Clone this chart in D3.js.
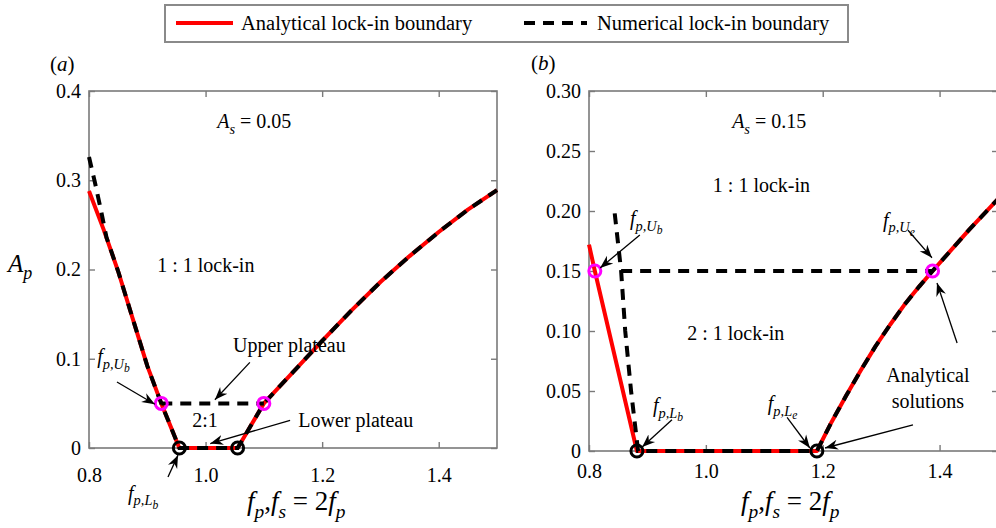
<!DOCTYPE html>
<html>
<head>
<meta charset="utf-8">
<script src="https://cdn.jsdelivr.net/npm/d3@7"></script>
<style>
  body { margin: 0; background: #fff; }
  svg text { font-family: "Liberation Serif", "Times New Roman", "DejaVu Serif", serif; }
</style>
</head>
<body>
<svg id="chart" width="996" height="528"></svg>
<script>
// ---- data ----
// panel (a), A_s = 0.05
const fRedA = [0.8, 0.825, 0.85, 0.875, 0.9, 0.924, 0.955, 1.055, 1.066, 1.1, 1.15, 1.2, 1.25, 1.3, 1.35, 1.4, 1.45, 1.5];
const apRedA = [0.288, 0.245, 0.198, 0.145, 0.092, 0.05, 0, 0, 0.012, 0.05, 0.085, 0.12, 0.154, 0.186, 0.215, 0.242, 0.267, 0.289];
const fNumA = [0.8, 0.81, 0.82, 0.83, 0.85, 0.875, 0.9, 0.924, 0.955, 1.055, 1.066, 1.1, 1.15, 1.2, 1.25, 1.3, 1.35, 1.4, 1.45, 1.5];
const apNumA = [0.326, 0.298, 0.268, 0.236, 0.198, 0.145, 0.092, 0.05, 0, 0, 0.012, 0.05, 0.085, 0.12, 0.154, 0.186, 0.215, 0.242, 0.267, 0.289];
const fPlateauA = [0.924, 1.1];
const apPlateauA = [0.05, 0.05];
const fUpperPtsA = [0.924, 1.1];
const apUpperPtsA = [0.05, 0.05];
const fLowerPtsA = [0.955, 1.055];
const apLowerPtsA = [0, 0];

// panel (b), A_s = 0.15
const fRedB = [0.8, 0.81, 0.882, 1.19, 1.215, 1.24, 1.265, 1.29, 1.315, 1.34, 1.365, 1.388, 1.45, 1.5];
const apRedB = [0.172, 0.15, 0, 0, 0.024, 0.046, 0.067, 0.087, 0.105, 0.122, 0.137, 0.15, 0.184, 0.21];
const fNumB = [0.844, 0.855, 0.862, 0.872, 0.884, 1.19, 1.215, 1.24, 1.265, 1.29, 1.315, 1.34, 1.365, 1.388, 1.45, 1.5];
const apNumB = [0.198, 0.15, 0.1, 0.05, 0, 0, 0.024, 0.046, 0.067, 0.087, 0.105, 0.122, 0.137, 0.15, 0.184, 0.21];
const fPlateauB = [0.855, 1.388];
const apPlateauB = [0.15, 0.15];
const fUpperPtsB = [0.81, 1.388];
const apUpperPtsB = [0.15, 0.15];
const fLowerPtsB = [0.882, 1.19];
const apLowerPtsB = [0, 0];

// ticks
const xTicks = [0.8, 1.0, 1.2, 1.4];
const xTickLabels = ["0.8", "1.0", "1.2", "1.4"];
const yTicksA = [0, 0.1, 0.2, 0.3, 0.4];
const yTickLabelsA = ["0", "0.1", "0.2", "0.3", "0.4"];
const yTicksB = [0, 0.05, 0.1, 0.15, 0.2, 0.25, 0.3];
const yTickLabelsB = ["0", "0.05", "0.10", "0.15", "0.20", "0.25", "0.30"];

const legendNames = ["Analytical lock-in boundary", "Numerical lock-in boundary"];

const RED = "#ff0000", MAG = "#ff00ff", AXIS = "#7a7a7a";
const DASH = "11,8";
const SERIF = "'Liberation Serif', 'Times New Roman', 'DejaVu Serif', serif";

const svg = d3.select("#chart");

// arrow head like the MATLAB annotation one
svg.append("defs").append("marker")
  .attr("id", "head")
  .attr("viewBox", "-13 -6 14 12")
  .attr("refX", 0).attr("refY", 0)
  .attr("markerWidth", 14).attr("markerHeight", 12)
  .attr("markerUnits", "userSpaceOnUse")
  .attr("orient", "auto")
  .append("path")
  .attr("d", "M0,0 L-13,-5 L-9,0 L-13,5 Z")
  .attr("fill", "#000");

// text with italic pieces and (nested) subscripts
// parts: [text, level, italic]
function richText(g, x, y, parts, size, anchor) {
  const t = g.append("text").attr("x", x).attr("y", y)
    .style("font-family", SERIF)
    .attr("font-size", size).attr("fill", "#000")
    .attr("text-anchor", anchor || "start");
  parts.forEach(([s, lvl, it]) => {
    const fs = lvl === 0 ? size : lvl === 1 ? size * 0.72 : size * 0.58;
    const dy = lvl === 0 ? 0 : lvl === 1 ? size * 0.28 : size * 0.45;
    t.append("tspan").attr("y", y + dy).attr("font-size", fs)
      .attr("font-style", it ? "italic" : "normal")
      .style("white-space", "pre")
      .text(s);
  });
  return t;
}

function drawPanel(p) {
  const g = svg.append("g");
  const x = d3.scaleLinear().domain([0.8, 1.5]).range([p.left, p.right]);
  const y = d3.scaleLinear().domain([0, p.yMax]).range([p.bottom, p.top]);

  // frame
  g.append("rect")
    .attr("x", p.left).attr("y", p.top)
    .attr("width", p.right - p.left).attr("height", p.bottom - p.top)
    .attr("fill", "#fff").attr("stroke", AXIS).attr("stroke-width", 1.6);

  const styleAxis = sel => {
    sel.attr("font-family", null).attr("font-size", null);
    sel.select(".domain").remove();
    sel.selectAll(".tick line").attr("stroke", AXIS).attr("stroke-width", 1.4);
    sel.selectAll(".tick text").attr("fill", "#000")
      .style("font-family", SERIF).style("font-size", "20px");
  };

  g.append("g").attr("transform", `translate(0,${p.bottom})`)
    .call(d3.axisBottom(x).tickValues(xTicks).tickFormat((d, i) => xTickLabels[i])
      .tickSizeInner(-6).tickSizeOuter(0).tickPadding(p.xPad))
    .call(styleAxis);
  g.append("g").attr("transform", `translate(0,${p.top})`)
    .call(d3.axisTop(x).tickValues(xTicks).tickFormat("").tickSizeInner(-6).tickSizeOuter(0))
    .call(styleAxis);
  g.append("g").attr("transform", `translate(${p.left},0)`)
    .call(d3.axisLeft(y).tickValues(p.yTicks).tickFormat((d, i) => p.yLabels[i])
      .tickSizeInner(-6).tickSizeOuter(0).tickPadding(8))
    .call(styleAxis);
  g.append("g").attr("transform", `translate(${p.right},0)`)
    .call(d3.axisRight(y).tickValues(p.yTicks).tickFormat("").tickSizeInner(-6).tickSizeOuter(0))
    .call(styleAxis);

  const line = d3.line().x(d => x(d[0])).y(d => y(d[1]));

  g.append("path").datum(d3.zip(p.fRed, p.apRed)).attr("d", line)
    .attr("fill", "none").attr("stroke", RED).attr("stroke-width", 4)
    .attr("stroke-linejoin", "round");

  [[p.fNum, p.apNum], [p.fPlat, p.apPlat]].forEach(([fs, as]) => {
    g.append("path").datum(d3.zip(fs, as)).attr("d", line)
      .attr("fill", "none").attr("stroke", "#000").attr("stroke-width", 4)
      .attr("stroke-dasharray", DASH);
  });

  g.selectAll(".up").data(d3.zip(p.fUp, p.apUp)).join("circle")
    .attr("cx", d => x(d[0])).attr("cy", d => y(d[1])).attr("r", 6)
    .attr("fill", "none").attr("stroke", MAG).attr("stroke-width", 3);
  g.selectAll(".lo").data(d3.zip(p.fLo, p.apLo)).join("circle")
    .attr("cx", d => x(d[0])).attr("cy", d => y(d[1])).attr("r", 6)
    .attr("fill", "none").attr("stroke", "#000").attr("stroke-width", 3);

  p.notes.forEach(n => richText(g, x(n.f), y(n.a), n.parts, n.size || 20, n.anchor));
  p.arrows.forEach(a => {
    g.append("line")
      .attr("x1", x(a[0])).attr("y1", y(a[1]))
      .attr("x2", x(a[2])).attr("y2", y(a[3]))
      .attr("stroke", "#000").attr("stroke-width", 1.3)
      .attr("marker-end", "url(#head)");
  });
}

const fpUb = [["f", 0, 1], ["p,U", 1, 1], ["b", 2, 1]];

drawPanel({
  left: 89, right: 497, top: 91, bottom: 448, yMax: 0.4, xPad: 20,
  yTicks: yTicksA, yLabels: yTickLabelsA,
  fRed: fRedA, apRed: apRedA, fNum: fNumA, apNum: apNumA,
  fPlat: fPlateauA, apPlat: apPlateauA,
  fUp: fUpperPtsA, apUp: apUpperPtsA, fLo: fLowerPtsA, apLo: apLowerPtsA,
  notes: [
    { f: 1.02, a: 0.358, parts: [["A", 0, 1], ["s", 1, 1], [" = 0.05", 0, 0]] },
    { f: 0.917, a: 0.197, parts: [["1 : 1 lock-in", 0, 0]] },
    { f: 0.814, a: 0.095, parts: fpUb },
    { f: 1.047, a: 0.108, parts: [["Upper plateau", 0, 0]] },
    { f: 0.977, a: 0.023, parts: [["2:1", 0, 0]] },
    { f: 1.159, a: 0.023, parts: [["Lower plateau", 0, 0]] },
    { f: 0.867, a: -0.058, parts: [["f", 0, 1], ["p,L", 1, 1], ["b", 2, 1]] }
  ],
  arrows: [
    [0.848, 0.074, 0.913, 0.049],
    [1.076, 0.096, 1.016, 0.054],
    [1.145, 0.031, 1.008, 0.005],
    [0.9355, -0.0325, 0.9527, -0.008]
  ]
});

drawPanel({
  left: 589, right: 998, top: 91, bottom: 451, yMax: 0.3, xPad: 13,
  yTicks: yTicksB, yLabels: yTickLabelsB,
  fRed: fRedB, apRed: apRedB, fNum: fNumB, apNum: apNumB,
  fPlat: fPlateauB, apPlat: apPlateauB,
  fUp: fUpperPtsB, apUp: apUpperPtsB, fLo: fLowerPtsB, apLo: apLowerPtsB,
  notes: [
    { f: 1.045, a: 0.269, parts: [["A", 0, 1], ["s", 1, 1], [" = 0.15", 0, 0]] },
    { f: 1.012, a: 0.216, parts: [["1 : 1 lock-in", 0, 0]] },
    { f: 0.87, a: 0.188, parts: fpUb },
    { f: 0.968, a: 0.0925, parts: [["2 : 1 lock-in", 0, 0]] },
    { f: 0.9095, a: 0.0325, parts: [["f", 0, 1], ["p,L", 1, 1], ["b", 2, 1]] },
    { f: 1.106, a: 0.034, parts: [["f", 0, 1], ["p,L", 1, 1], ["e", 2, 1]] },
    { f: 1.303, a: 0.187, parts: [["f", 0, 1], ["p,U", 1, 1], ["e", 2, 1]] },
    { f: 1.38, a: 0.0575, parts: [["Analytical", 0, 0]], anchor: "middle" },
    { f: 1.38, a: 0.036, parts: [["solutions", 0, 0]], anchor: "middle" }
  ],
  arrows: [
    [0.887, 0.18, 0.819, 0.1525],
    [0.942, 0.026, 0.891, 0.0033],
    [1.139, 0.028, 1.178, 0.0025],
    [1.346, 0.184, 1.387, 0.161],
    [1.43, 0.09, 1.3956, 0.14],
    [1.3545, 0.0217, 1.204, 0.0025]
  ]
});

// panel letters and axis titles
richText(svg, 50, 71, [["(", 0, 0], ["a", 0, 1], [")", 0, 0]], 21);
richText(svg, 531, 70, [["(", 0, 0], ["b", 0, 1], [")", 0, 0]], 21);
richText(svg, 8, 272, [["A", 0, 1], ["p", 1, 1]], 25);
const xTitle = [["f", 0, 1], ["p", 1, 1], [",", 0, 0], ["f", 0, 1], ["s", 1, 1], [" = 2", 0, 0], ["f", 0, 1], ["p", 1, 1]];
richText(svg, 247, 510, xTitle, 27);
richText(svg, 741, 510, xTitle, 27);

// legend
const lg = svg.append("g");
lg.append("rect").attr("x", 165).attr("y", 5).attr("width", 683).attr("height", 37)
  .attr("fill", "#fff").attr("stroke", "#8a8a8a").attr("stroke-width", 2);
lg.append("line").attr("x1", 176).attr("x2", 233).attr("y1", 23).attr("y2", 23)
  .attr("stroke", RED).attr("stroke-width", 4);
richText(lg, 241, 30, [[legendNames[0], 0, 0]], 20.5);
lg.append("line").attr("x1", 524).attr("x2", 587).attr("y1", 23).attr("y2", 23)
  .attr("stroke", "#000").attr("stroke-width", 4).attr("stroke-dasharray", DASH);
richText(lg, 597, 30, [[legendNames[1], 0, 0]], 20.5);
</script>
</body>
</html>
